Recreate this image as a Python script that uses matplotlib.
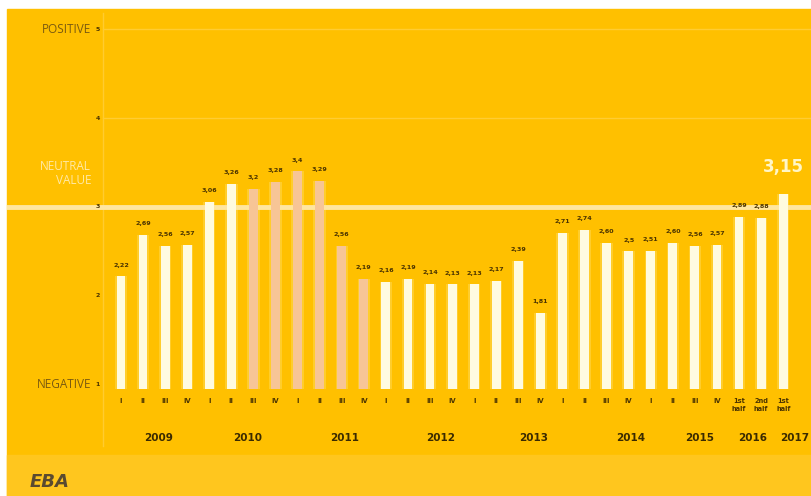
import matplotlib.pyplot as plt
from matplotlib.patches import Rectangle

# quarterly sentiment index, 1 = negative, 5 = positive
periods = ["I", "II", "III", "IV"] * 7 + ["1st\nhalf", "2nd\nhalf", "1st\nhalf"]
values = [2.22, 2.69, 2.56, 2.57,
          3.06, 3.26, 3.20, 3.28,
          3.40, 3.29, 2.56, 2.19,
          2.16, 2.19, 2.14, 2.13,
          2.13, 2.17, 2.39, 1.81,
          2.71, 2.74, 2.60, 2.50,
          2.51, 2.60, 2.56, 2.57,
          2.89, 2.88, 3.15]
value_labels = ["2,22", "2,69", "2,56", "2,57",
                "3,06", "3,26", "3,2", "3,28",
                "3,4", "3,29", "2,56", "2,19",
                "2,16", "2,19", "2,14", "2,13",
                "2,13", "2,17", "2,39", "1,81",
                "2,71", "2,74", "2,60", "2,5",
                "2,51", "2,60", "2,56", "2,57",
                "2,89", "2,88", "3,15"]
highlighted = [6, 7, 8, 9, 10, 11]  # bars drawn in salmon
years = ["2009", "2010", "2011", "2012", "2013", "2014", "2015", "2016", "2017"]
year_x = [1.68, 5.74, 10.15, 14.5, 18.7, 23.1, 26.2, 28.6, 30.5]
neutral = 3

bg = "#FFC000"
cream = "#FFFBE0"
salmon = "#F7C596"
dark = "#4A3300"

fig = plt.figure(figsize=(8.11, 4.96), dpi=100)
fig.patch.set_facecolor("white")
# chart panel and lighter footer band
fig.patches.append(Rectangle((7 / 811, 0), 804 / 811, 487 / 496,
                             transform=fig.transFigure, color=bg, zorder=-10))
fig.patches.append(Rectangle((7 / 811, 0), 804 / 811, 41 / 496,
                             transform=fig.transFigure, color="#FFC61E", zorder=-9))

ax = fig.add_axes([7 / 811, 41 / 496, 804 / 811, 446 / 496])
ax.set_facecolor("none")
ax.set_xlim(-5.165, 31.26)
ax.set_ylim(0.213, 5.225)
ax.axis("off")

x = list(range(len(values)))
base = 0.95
colors = [salmon if i in highlighted else cream for i in x]
heights = [v - base for v in values]
# soft glow behind each bar
ax.bar(x, heights, bottom=base, width=0.56, color="#FFE680", alpha=0.35, zorder=2)
ax.bar(x, heights, bottom=base, width=0.4, color=colors, zorder=3)

# faint grid at 4 and 5, neutral line at 3
for g in (4, 5):
    ax.axhline(g, xmin=0.119, color="#FFCC33", lw=1, zorder=1)
ax.axhline(neutral, color="#FFE6A0", lw=3.5, zorder=2.5)
ax.axvline(-0.816, ymin=0.02, ymax=0.99, color="#FFCB30", lw=1, zorder=1)

for t in (1, 2, 3, 4, 5):
    ax.text(-1.05, t, str(t), ha="center", va="center", fontsize=4.5,
            color=dark, fontweight="bold", zorder=4)
ax.text(-1.35, 5, "POSITIVE", ha="right", va="center", fontsize=8.5,
        color="#7A5A10", family="Open Sans", zorder=4)
ax.text(-1.35, 1, "NEGATIVE", ha="right", va="center", fontsize=8.5,
        color="#7A5A10", family="Open Sans", zorder=4)
ax.text(-1.35, 3.38, "NEUTRAL\nVALUE", ha="right", va="center", fontsize=8.5,
        color="#FFE9A6", family="Open Sans", linespacing=1.1, zorder=4)

for i, (v, lab) in enumerate(zip(values, value_labels)):
    if i == len(values) - 1:
        ax.text(i, v + 0.3, lab, ha="center", va="center", fontsize=12,
                color="#FFF6C8", fontweight="bold", zorder=4)
    else:
        ax.text(i, v + 0.1, lab, ha="center", va="bottom", fontsize=4.6,
                color=dark, fontweight="bold", zorder=4)

for i, p in enumerate(periods):
    ax.text(i, 0.85, p, ha="center", va="top", fontsize=4.8, color=dark,
            fontweight="bold", linespacing=1.4, zorder=4)

for yx, yr in zip(year_x, years):
    ax.text(yx, 0.4, yr, ha="center", va="center", fontsize=7.5,
            color="#3A2A00", fontweight="bold", zorder=4)

# logo in the footer
fig.text(30 / 811, 14 / 496, "EBA", ha="left", va="center", fontsize=13,
         fontweight="bold", fontstyle="italic", color="#5A4A30")

fig.savefig("out.png", dpi=100, facecolor=fig.get_facecolor())
